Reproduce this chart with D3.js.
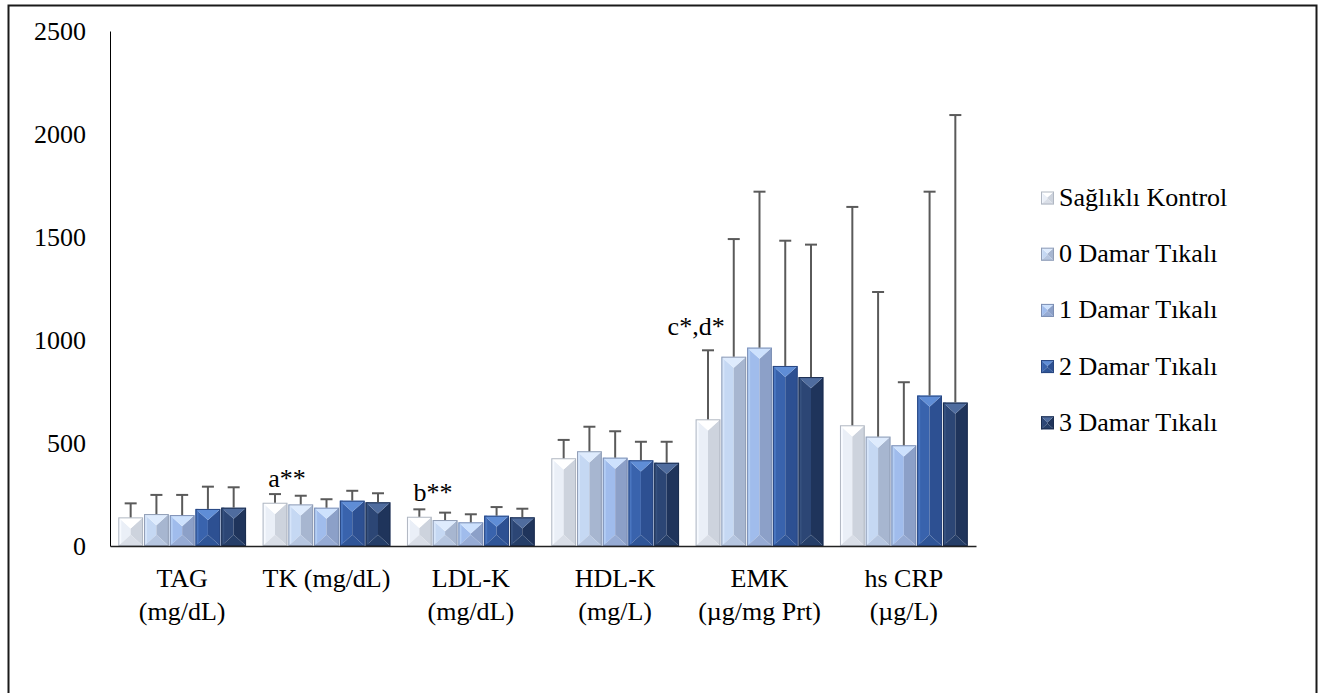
<!DOCTYPE html>
<html>
<head>
<meta charset="utf-8">
<script src="https://cdn.jsdelivr.net/npm/d3@7"></script>
<style>
  html, body { margin: 0; padding: 0; background: #fff; }
  svg { display: block; }
  svg text { font-family: "Liberation Serif", "Times New Roman", "DejaVu Serif", serif !important; fill: #000; }
</style>
</head>
<body>
<svg id="chart" width="1324" height="693"></svg>
<script>
// ---------- data ----------
const categories = ["TAG (mg/dL)", "TK (mg/dL)", "LDL-K (mg/dL)", "HDL-K (mg/L)", "EMK (µg/mg Prt)", "hs CRP (µg/L)"];
const categoryLines = [["TAG", "(mg/dL)"], ["TK (mg/dL)"], ["LDL-K", "(mg/dL)"], ["HDL-K", "(mg/L)"], ["EMK", "(µg/mg Prt)"], ["hs CRP", "(µg/L)"]];
const seriesNames = ["Sağlıklı Kontrol", "0 Damar Tıkalı", "1 Damar Tıkalı", "2 Damar Tıkalı", "3 Damar Tıkalı"];

const meanSaglikli = [139, 210, 142, 426, 615, 586];
const mean0 = [155, 202, 126, 460, 919, 531];
const mean1 = [150, 186, 115, 429, 963, 489];
const mean2 = [180, 220, 147, 416, 874, 730];
const mean3 = [186, 212, 139, 404, 820, 696];

const sdSaglikli = [68, 42, 36, 89, 335, 1060];
const sd0 = [93, 42, 36, 119, 571, 702];
const sd1 = [98, 41, 39, 128, 757, 306];
const sd2 = [108, 48, 42, 90, 608, 990];
const sd3 = [99, 44, 42, 102, 643, 1396];

const yTicks = [0, 500, 1000, 1500, 2000, 2500];

const annotations = [
  { category: 1, series: 0, text: "a**" },
  { category: 2, series: 0, text: "b**" },
  { category: 4, series: 0, text: "c*,d*" }
];

const means = [meanSaglikli, mean0, mean1, mean2, mean3];
const sds = [sdSaglikli, sd0, sd1, sd2, sd3];

// ---------- styles ----------
const FONT = "'Liberation Serif', 'Times New Roman', 'DejaVu Serif', serif";
const palette = [
  { top: "#ffffff", left0: "#f7faff", left: "#eaeff7", right: "#cdd3dd", bottom: "#d9dee7", stroke: "#b0b7c2" },
  { top: "#deebfd", left0: "#d6e5fa", left: "#c5d8f3", right: "#a7b6d0", bottom: "#b6c6e0", stroke: "#909db5" },
  { top: "#cde1fd", left0: "#b2cdf4", left: "#a0bcec", right: "#8ca0c8", bottom: "#96abd4", stroke: "#7c8eb3" },
  { top: "#5f8dd6", left0: "#4a76c0", left: "#3963ad", right: "#2d5092", bottom: "#2f5597", stroke: "#284680" },
  { top: "#4f6c9e", left0: "#36517f", left: "#2c4675", right: "#1f345b", bottom: "#253e68", stroke: "#1b2d4f" }
];

const svg = d3.select("#chart").attr("font-family", FONT);

// outer frame
svg.append("rect")
  .attr("x", 8.5).attr("y", 5.5)
  .attr("width", 1308).attr("height", 700)
  .attr("fill", "none").attr("stroke", "#1a1a1a").attr("stroke-width", 2);

const x0 = 110, x1 = 976, yTop = 31, yBase = 546;

const x = d3.scaleBand().domain(categories).range([x0, x1]).paddingInner(0.108).paddingOuter(0.054);
const xs = d3.scaleBand().domain(seriesNames).range([0, x.bandwidth()]).padding(0);
const y = d3.scaleLinear().domain([0, 2500]).range([yBase, yTop]);

// y axis
const yAxis = svg.append("g")
  .attr("transform", `translate(${x0},0)`)
  .call(d3.axisLeft(y).tickValues(yTicks).tickSize(0).tickPadding(24).tickFormat(d3.format("d")));
yAxis.attr("font-family", FONT).attr("font-size", 26);
yAxis.select(".domain").attr("stroke", "#000").attr("stroke-width", 1);
yAxis.selectAll("text")
  .attr("font-size", 26)
  .attr("font-family", FONT)
  .attr("dy", "0.33em");

function bevelBar(g, bx, by, w, h, c) {
  const xc = bx + w / 2, xr = bx + w, yb = by + h;
  const d = Math.min(w * 0.45, h / 2);
  g.append("polygon")
    .attr("points", [[bx, by], [xc, by + d], [xc, yb - d], [bx, yb]].map(p => p.join(",")).join(" "))
    .attr("fill", c.left);
  g.append("rect").attr("x", bx).attr("y", by).attr("width", w * 0.12).attr("height", h).attr("fill", c.left0);
  g.append("polygon")
    .attr("points", [[xr, by], [xc, by + d], [xc, yb - d], [xr, yb]].map(p => p.join(",")).join(" "))
    .attr("fill", c.right);
  g.append("polygon")
    .attr("points", [[bx, by], [xr, by], [xc, by + d]].map(p => p.join(",")).join(" "))
    .attr("fill", c.top);
  g.append("polygon")
    .attr("points", [[bx, yb], [xr, yb], [xc, yb - d]].map(p => p.join(",")).join(" "))
    .attr("fill", c.bottom);
  g.append("rect").attr("x", bx + 0.5).attr("y", by + 0.5).attr("width", w - 1).attr("height", h - 1)
    .attr("fill", "none").attr("stroke", c.stroke).attr("stroke-width", 1);
}

// bars
const barsG = svg.append("g");
categories.forEach((cat, ci) => {
  seriesNames.forEach((s, si) => {
    const v = means[si][ci];
    const bx = x(cat) + xs(s);
    const g = barsG.append("g");
    bevelBar(g, bx + 0.5, y(v), xs.bandwidth() - 1, y(0) - y(v), palette[si]);
  });
});

// error bars (plus direction)
const errG = svg.append("g").attr("stroke", "#5a5a5a").attr("stroke-width", 2);
categories.forEach((cat, ci) => {
  seriesNames.forEach((s, si) => {
    const v = means[si][ci], e = sds[si][ci];
    const cx = x(cat) + xs(s) + xs.bandwidth() / 2;
    errG.append("line").attr("x1", cx).attr("x2", cx).attr("y1", y(v)).attr("y2", y(v + e));
    errG.append("line").attr("x1", cx - 6).attr("x2", cx + 6).attr("y1", y(v + e)).attr("y2", y(v + e));
  });
});

// x axis
const xAxis = svg.append("g")
  .attr("transform", `translate(0,${yBase})`)
  .call(d3.axisBottom(x).tickSize(0).tickSizeOuter(0));
xAxis.attr("font-family", FONT);
xAxis.select(".domain").attr("stroke", "#222").attr("stroke-width", 1.5);
xAxis.selectAll(".tick text").remove();
xAxis.selectAll(".tick").each(function(d, i) {
  const t = d3.select(this).append("text")
    .attr("text-anchor", "middle")
    .attr("font-size", 26)
    .attr("font-family", FONT)
    .attr("fill", "#000");
  categoryLines[i].forEach((ln, li) => {
    t.append("tspan").attr("x", 0).attr("y", 41 + li * 33).text(ln);
  });
});

// annotations
const offsets = [{ dx: 6, anchor: "start", dy: -7 }, { dx: 7, anchor: "start", dy: -8 }, { dx: 1, anchor: "middle", dy: -15 }];
annotations.forEach((a, i) => {
  const cat = categories[a.category], s = seriesNames[a.series];
  const top = y(means[a.series][a.category] + sds[a.series][a.category]);
  svg.append("text")
    .attr("x", x(cat) + xs(s) + offsets[i].dx)
    .attr("y", top + offsets[i].dy)
    .attr("text-anchor", offsets[i].anchor)
    .attr("font-size", 26)
    .attr("font-family", FONT)
    .text(a.text);
});

// legend
const legend = svg.append("g").attr("transform", "translate(1041,0)");
seriesNames.forEach((s, si) => {
  const cy = 198 + si * 56.2;
  const g = legend.append("g");
  bevelBar(g, 0, cy - 6.5, 13, 13, palette[si]);
  legend.append("text")
    .attr("x", 18).attr("y", cy + 8)
    .attr("font-size", 26)
    .attr("font-family", FONT)
    .text(s);
});
</script>
</body>
</html>
